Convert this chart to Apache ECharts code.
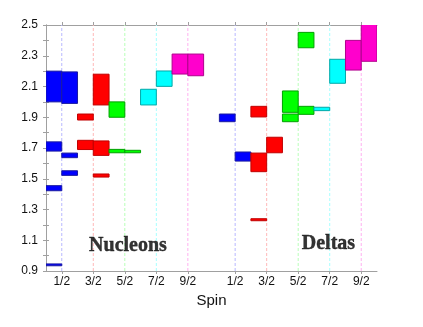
<!DOCTYPE html>
<html>
<head>
<meta charset="utf-8">
<script src="https://cdn.jsdelivr.net/npm/echarts@6/dist/echarts.min.js"></script>
<style>html,body{margin:0;padding:0;background:#fff;}#chart{width:423px;height:327px;}</style>
</head>
<body>
<div id="chart"></div>
<script>
// Spin tick positions and labels (nucleon columns 0..5, delta columns 5.5..10.5)
const spinTickValues = [0.5, 1.5, 2.5, 3.5, 4.5, 6, 7, 8, 9, 10];
const spinTickLabels = ['1/2', '3/2', '5/2', '7/2', '9/2', '1/2', '3/2', '5/2', '7/2', '9/2'];
const yTickLabels = ['0.9', '1.1', '1.3', '1.5', '1.7', '1.9', '2.1', '2.3', '2.5'];

// Each state: [column start, mass low, mass high]
const nucleonJ12 = [[0, 2.00, 2.20], [0, 1.68, 1.74], [0, 1.422, 1.455], [0, 0.934, 0.946],
                    [0.5, 1.99, 2.195], [0.5, 1.637, 1.667], [0.5, 1.522, 1.552]];
const nucleonJ32 = [[1.0, 1.882, 1.921], [1.0, 1.69, 1.75], [1.5, 1.98, 2.18], [1.5, 1.652, 1.746], [1.5, 1.511, 1.531]];
const nucleonJ52 = [[2.0, 1.90, 2.00], [2.0, 1.669, 1.691], [2.5, 1.669, 1.685]];
const nucleonJ72 = [[3.0, 1.98, 2.082], [3.5, 2.101, 2.201]];
const nucleonJ92 = [[4.0, 2.181, 2.311], [4.5, 2.17, 2.311]];

const deltaJ12 = [[5.5, 1.871, 1.921], [6.0, 1.615, 1.674]];
const deltaJ32 = [[6.5, 1.902, 1.971], [6.5, 1.546, 1.667], [6.5, 1.227, 1.24], [7.0, 1.669, 1.77]];
const deltaJ52 = [[7.5, 1.932, 2.071], [7.5, 1.871, 1.921], [8.0, 2.352, 2.452], [8.0, 1.919, 1.971]];
const deltaJ72 = [[8.5, 1.943, 1.965], [9.0, 2.121, 2.277]];
const deltaJ92 = [[9.5, 2.207, 2.40], [10.0, 2.264, 2.52]];

const spinColors = ['#0000ff', '#ff0000', '#00ff00', '#00ffff', '#ff00cc'];
const spinBorders = ['#1a1aa0', '#c00000', '#00a000', '#00a8a8', '#b0008c'];
const spinLineColors = ['#b8b8ff', '#ffb8b8', '#b8ffb8', '#a8ffff', '#ffb0f0'];

const colWidth = 0.5;
const yMin = 0.9, yMax = 2.5;

const groups = [
  [nucleonJ12, 0], [nucleonJ32, 1], [nucleonJ52, 2], [nucleonJ72, 3], [nucleonJ92, 4],
  [deltaJ12, 0], [deltaJ32, 1], [deltaJ52, 2], [deltaJ72, 3], [deltaJ92, 4]
];

const boxData = [];
groups.forEach(([arr, c]) => arr.forEach(s => boxData.push([s[0], s[1], s[2], c])));

const lineData = spinTickValues.map((v, i) => [v, i % 5]);

const chart = echarts.init(document.getElementById('chart'), null, {renderer: 'canvas'});
const axisGray = '#a0a0a0';
const labelFont = {fontFamily: 'Liberation Sans', fontSize: 12, color: '#111'};
const yLabelFmt = v => { const s = v.toFixed(1); return yTickLabels.indexOf(s) >= 0 ? s : ''; };

chart.setOption({
  animation: false,
  grid: {left: 46, right: 46, top: 25, bottom: 56},
  xAxis: [{
    type: 'value', position: 'bottom', min: 0, max: 10.5,
    axisLine: {show: true, lineStyle: {color: axisGray}},
    axisTick: {show: true, customValues: spinTickValues, length: 3, lineStyle: {color: axisGray}},
    axisLabel: Object.assign({customValues: spinTickValues, margin: 5,
      formatter: v => { const i = spinTickValues.findIndex(t => Math.abs(t - v) < 1e-6); return i >= 0 ? spinTickLabels[i] : ''; }}, labelFont),
    splitLine: {show: false},
    name: 'Spin', nameLocation: 'middle', nameGap: 18,
    nameTextStyle: {fontFamily: 'Liberation Sans', fontSize: 15, color: '#111'}
  }, {
    type: 'value', position: 'top', min: 0, max: 10.5,
    axisLine: {show: true, lineStyle: {color: axisGray}},
    axisTick: {show: true, customValues: spinTickValues, length: 3, lineStyle: {color: axisGray}},
    axisLabel: {show: false},
    splitLine: {show: false}
  }],
  yAxis: [{
    type: 'value', position: 'left', min: yMin, max: yMax, interval: 0.1,
    axisLine: {show: true, lineStyle: {color: axisGray}},
    axisTick: {show: true, inside: true, length: 3, lineStyle: {color: axisGray}},
    axisLabel: Object.assign({margin: 8, showMinLabel: true, showMaxLabel: true, hideOverlap: false, formatter: yLabelFmt}, labelFont),
    splitLine: {show: false}
  }, {
    type: 'value', position: 'right', min: yMin, max: yMax, interval: 0.1,
    axisLine: {show: true, lineStyle: {color: axisGray}},
    axisTick: {show: true, inside: true, length: 3, lineStyle: {color: axisGray}},
    axisLabel: {show: false},
    splitLine: {show: false}
  }],
  series: [{
    type: 'custom', name: 'spinLines', z: 1, silent: true,
    data: lineData,
    renderItem: (params, api) => {
      const x = api.value(0), c = api.value(1);
      const p0 = api.coord([x, yMin]), p1 = api.coord([x, yMax]);
      return {type: 'line', shape: {x1: p0[0], y1: p0[1], x2: p1[0], y2: p1[1]},
        style: {stroke: spinLineColors[c], lineWidth: 1, lineDash: [3, 2]}};
    }
  }, {
    type: 'custom', name: 'states', z: 2, silent: true, clip: true,
    data: boxData,
    renderItem: (params, api) => {
      const x0 = api.value(0), lo = api.value(1), hi = api.value(2), c = api.value(3);
      const p0 = api.coord([x0, hi]), p1 = api.coord([x0 + colWidth, lo]);
      return {type: 'rect', shape: {x: p0[0], y: p0[1], width: p1[0] - p0[0], height: p1[1] - p0[1]},
        style: {fill: spinColors[c], stroke: spinBorders[c], lineWidth: 1}};
    }
  }, {
    type: 'scatter', name: 'titles', z: 3, silent: true, symbolSize: 0,
    itemStyle: {color: '#000'},
    data: [[2.6, 1.066, 'Nucleons'], [8.96, 1.078, 'Deltas']],
    label: {show: true, position: 'inside', formatter: p => p.data[2],
      fontFamily: 'Liberation Serif', fontWeight: 'bold', fontSize: 20, color: '#000',
      textBorderWidth: 0.4, textBorderColor: '#000'}
  }]
});
</script>
</body>
</html>
